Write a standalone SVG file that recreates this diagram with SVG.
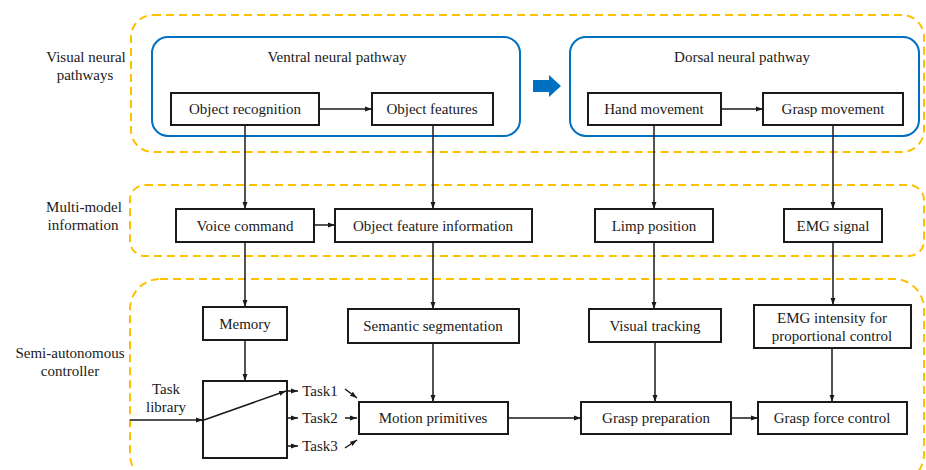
<svg xmlns="http://www.w3.org/2000/svg" width="926" height="470" viewBox="0 0 926 470">
<defs>
<style>
text{font-family:"Liberation Serif","Times New Roman",serif;font-size:15px;fill:#1a1a1a;text-anchor:middle;dominant-baseline:central}
.grp{fill:none;stroke:#FFC000;stroke-width:2;stroke-dasharray:8 5}
.path{fill:none;stroke:#0070C0;stroke-width:2}
.box{fill:#fff;stroke:#1a1a1a;stroke-width:2}
.ln{fill:none;stroke:#1a1a1a;stroke-width:1.5;marker-end:url(#ah)}
</style>
<marker id="ah" viewBox="0 0 10 10" refX="10" refY="5" markerWidth="7" markerHeight="7" markerUnits="userSpaceOnUse" orient="auto"><path d="M0,1.5 L10,5 L0,8.5 Z" fill="#1a1a1a"/></marker>
</defs>
<rect fill="#fff" width="926" height="470"/>
<g id="groups">
<rect class="grp" x="131" y="15" width="793" height="137" rx="22"/>
<rect class="grp" x="130" y="185" width="794" height="71" rx="15"/>
<rect class="grp" x="130" y="279" width="794" height="205" rx="30"/>
</g>
<g id="labels">
<text x="86" y="57">Visual neural</text>
<text x="85" y="75">pathways</text>
<text x="84" y="207">Multi-model</text>
<text x="83" y="225">information</text>
<text x="70" y="353">Semi-autonomous</text>
<text x="70" y="371">controller</text>
</g>
<g id="ventral"><rect class="path" x="152" y="37" width="368" height="99" rx="16"/><text x="337" y="57">Ventral neural pathway</text></g>
<g id="dorsal"><rect class="path" x="570" y="37" width="349" height="99" rx="16"/><text x="742" y="57">Dorsal neural pathway</text></g>
<g id="blue-arrow"><path d="M533,80 H549 V75 L561,86 L549,97 V92 H533 Z" fill="#0070C0"/></g>
<g id="object-recognition"><rect class="box" x="171" y="93" width="148" height="32"/><text x="245" y="109">Object recognition</text></g>
<g id="object-features"><rect class="box" x="372" y="93" width="121" height="32"/><text x="432" y="109">Object features</text></g>
<g id="hand-movement"><rect class="box" x="588" y="93" width="133" height="32"/><text x="654" y="109">Hand movement</text></g>
<g id="grasp-movement"><rect class="box" x="763" y="93" width="140" height="32"/><text x="833" y="109">Grasp movement</text></g>
<g id="voice-command"><rect class="box" x="176" y="209" width="138" height="33"/><text x="245" y="225.5">Voice command</text></g>
<g id="object-feature-information"><rect class="box" x="335" y="209" width="197" height="33"/><text x="433" y="225.5">Object feature information</text></g>
<g id="limp-position"><rect class="box" x="595" y="209" width="118" height="33"/><text x="654" y="225.5">Limp position</text></g>
<g id="emg-signal"><rect class="box" x="784" y="209" width="98" height="33"/><text x="833" y="225.5">EMG signal</text></g>
<g id="memory"><rect class="box" x="203" y="307" width="84" height="33"/><text x="245" y="323.5">Memory</text></g>
<g id="semantic-segmentation"><rect class="box" x="348" y="309" width="171" height="34"/><text x="433" y="326">Semantic segmentation</text></g>
<g id="visual-tracking"><rect class="box" x="589" y="309" width="132" height="33"/><text x="655" y="325.5">Visual tracking</text></g>
<g id="emg-intensity"><rect class="box" x="754" y="305" width="157" height="43"/><text x="832" y="318">EMG intensity for</text><text x="832" y="336">proportional control</text></g>
<g id="switch"><rect class="box" x="203" y="381" width="84" height="77"/><text x="166" y="389">Task</text><text x="166" y="407">library</text><text x="320" y="391">Task1</text><text x="320" y="418">Task2</text><text x="320" y="446">Task3</text></g>
<g id="motion-primitives"><rect class="box" x="359" y="402" width="149" height="32"/><text x="433" y="418">Motion primitives</text></g>
<g id="grasp-preparation"><rect class="box" x="581" y="402" width="150" height="32"/><text x="656" y="418">Grasp preparation</text></g>
<g id="grasp-force-control"><rect class="box" x="758" y="402" width="149" height="32"/><text x="832" y="418">Grasp force control</text></g>
<g id="connectors">
<path class="ln" d="M319,109 H372"/>
<path class="ln" d="M721,109 H763"/>
<path class="ln" d="M245,125 V209"/>
<path class="ln" d="M433,125 V209"/>
<path class="ln" d="M654,125 V209"/>
<path class="ln" d="M833,125 V209"/>
<path class="ln" d="M314,225 H335"/>
<path class="ln" d="M245,242 V307"/>
<path class="ln" d="M433,242 V309"/>
<path class="ln" d="M654,242 V309"/>
<path class="ln" d="M833,242 V305"/>
<path class="ln" d="M245,340 V381"/>
<path class="ln" d="M433,343 V402"/>
<path class="ln" d="M655,342 V402"/>
<path class="ln" d="M832,348 V402"/>
<path class="ln" d="M130,420 H203"/>
<path class="ln" d="M204,420 L286,391"/>
<path class="ln" d="M287,391 H298"/>
<path class="ln" d="M287,418 H298"/>
<path class="ln" d="M287,446 H298"/>
<path class="ln" d="M345,389 L357,398"/>
<path class="ln" d="M345,418 H357"/>
<path class="ln" d="M345,448 L357,440"/>
<path class="ln" d="M508,418 H581"/>
<path class="ln" d="M731,418 H758"/>
</g>
</svg>
